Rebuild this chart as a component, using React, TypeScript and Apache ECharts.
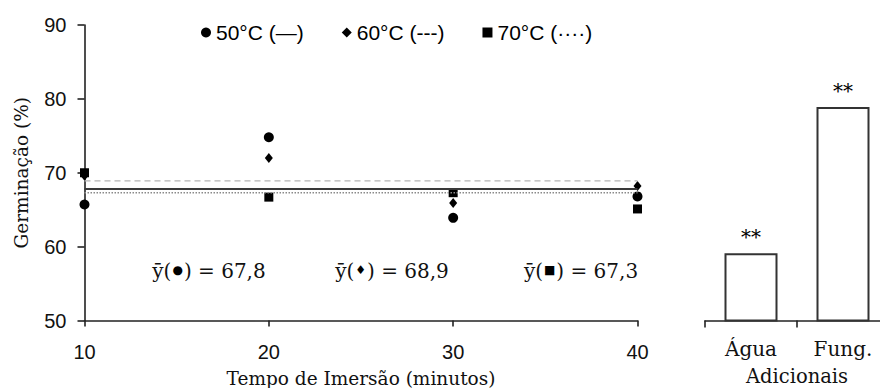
import React, { useEffect, useRef } from "react";
import * as echarts from "echarts";

const times = [10, 20, 30, 40];
const series50 = [65.7, 74.8, 63.9, 66.8];
const series60 = [69.6, 72.0, 65.9, 68.2];
const series70 = [70.0, 66.7, 67.3, 65.1];
const seriesNames = ["50°C (—)", "60°C (---)", "70°C (····)"];
const means = [67.8, 68.9, 67.3];
const meanSymbols = ["●", "♦", "■"];
const extraCats = ["Água", "Fung."];
const extraVals = [59.1, 78.9];
const extraSig = ["**", "**"];
const yTicks = [50, 60, 70, 80, 90];

const SANS = "'Liberation Sans', Arial, sans-serif";
const SERIF = "'DejaVu Serif', serif";

const fmt = (v: number) => v.toFixed(1).replace(".", ",");

export default function App() {
  const ref = useRef<HTMLDivElement>(null);
  useEffect(() => {
    if (!ref.current) return;
    const chart = echarts.init(ref.current, undefined, { renderer: "svg" });
    const axisLine = { lineStyle: { color: "#222", width: 1.6 } };
    const pairs = (arr: number[]) => times.map((t, i) => [t, arr[i]]);
    const meanLine = (m: number) => [
      [times[0], m],
      [times[times.length - 1], m],
    ];
    const annCenters = [209, 392, 581];
    chart.setOption({
      animation: false,
      backgroundColor: "#fff",
      legend: {
        data: seriesNames,
        left: 196,
        top: 17,
        itemWidth: 10,
        itemHeight: 10,
        itemGap: 38,
        textStyle: { fontFamily: SANS, fontSize: 21, color: "#000" },
      },
      grid: [
        { left: 84.5, right: 242.5, top: 25, bottom: 67.5, outerBoundsMode: "none", containLabel: false },
        { left: 705, width: 184, top: 25, bottom: 67.5, outerBoundsMode: "none", containLabel: false },
      ],
      xAxis: [
        {
          type: "value",
          gridIndex: 0,
          min: 10,
          max: 40,
          interval: 10,
          splitLine: { show: false },
          axisLine: { ...axisLine, onZero: false },
          axisTick: { show: true, length: 6, lineStyle: { color: "#222", width: 1.6 } },
          axisLabel: { fontFamily: SANS, fontSize: 20, color: "#111", margin: 21 },
          name: "Tempo de Imersão (minutos)",
          nameLocation: "middle",
          nameGap: 48,
          nameTextStyle: { fontFamily: SERIF, fontSize: 18.5, color: "#111" },
        },
        {
          type: "category",
          gridIndex: 1,
          data: extraCats,
          axisLine,
          axisTick: { show: true, length: 7, lineStyle: { color: "#222", width: 1.6 } },
          axisLabel: { fontFamily: SERIF, fontSize: 20, color: "#111", margin: 18 },
          name: "Adicionais",
          nameLocation: "middle",
          nameGap: 46,
          nameTextStyle: { fontFamily: SERIF, fontSize: 19.5, color: "#111" },
        },
      ],
      yAxis: [
        {
          type: "value",
          gridIndex: 0,
          min: yTicks[0],
          max: yTicks[yTicks.length - 1],
          interval: 10,
          splitLine: { show: false },
          axisLine: { ...axisLine, show: true },
          axisTick: { show: true, length: 7, lineStyle: { color: "#222", width: 1.6 } },
          axisLabel: { fontFamily: SANS, fontSize: 20, color: "#111", margin: 18 },
          name: "Germinação (%)",
          nameLocation: "middle",
          nameGap: 54,
          nameTextStyle: { fontFamily: SERIF, fontSize: 18.5, color: "#111" },
        },
        {
          type: "value",
          gridIndex: 1,
          min: yTicks[0],
          max: yTicks[yTicks.length - 1],
          show: false,
          splitLine: { show: false },
        },
      ],
      series: [
        {
          type: "line",
          name: "m60",
          xAxisIndex: 0,
          yAxisIndex: 0,
          data: meanLine(means[1]),
          symbol: "none",
          lineStyle: { color: "#b5b5b5", width: 1.4, type: [6, 4] },
          silent: true,
        },
        {
          type: "line",
          name: "m70",
          xAxisIndex: 0,
          yAxisIndex: 0,
          data: meanLine(means[2]),
          symbol: "none",
          lineStyle: { color: "#8a8a8a", width: 1.6, type: [1.5, 1.5] },
          silent: true,
        },
        {
          type: "line",
          name: "m50",
          xAxisIndex: 0,
          yAxisIndex: 0,
          data: meanLine(means[0]),
          symbol: "none",
          lineStyle: { color: "#3a3a3a", width: 2 },
          silent: true,
        },
        {
          type: "scatter",
          name: seriesNames[0],
          xAxisIndex: 0,
          yAxisIndex: 0,
          data: pairs(series50),
          symbol: "circle",
          symbolSize: 10,
          clip: false,
          itemStyle: { color: "#000", opacity: 1 },
        },
        {
          type: "scatter",
          name: seriesNames[1],
          xAxisIndex: 0,
          yAxisIndex: 0,
          data: pairs(series60),
          symbol: "diamond",
          symbolSize: [8, 10],
          clip: false,
          itemStyle: { color: "#000", opacity: 1 },
        },
        {
          type: "scatter",
          name: seriesNames[2],
          xAxisIndex: 0,
          yAxisIndex: 0,
          data: pairs(series70),
          symbol: "rect",
          symbolSize: 9,
          clip: false,
          itemStyle: { color: "#000", opacity: 1 },
        },
        {
          type: "bar",
          xAxisIndex: 1,
          yAxisIndex: 1,
          data: extraVals,
          barWidth: 53,
          itemStyle: { color: "#fff", borderColor: "#333", borderWidth: 2 },
          label: {
            show: true,
            position: "top",
            distance: 6,
            formatter: (p: any) => extraSig[p.dataIndex],
            fontFamily: SERIF,
            fontSize: 20,
            color: "#000",
          },
        },
      ],
      graphic: means.map((m, i) => ({
        type: "text",
        x: annCenters[i],
        y: 271,
        style: {
          text: `ȳ({s|${meanSymbols[i]}}) = ${fmt(m)}`,
          fontFamily: SERIF,
          fontSize: 20,
          fill: "#111",
          textAlign: "center",
          textVerticalAlign: "middle",
          rich: {
            s: { fontSize: 12, fontFamily: "'DejaVu Sans', sans-serif", fill: "#000", padding: [0, 1, 2, 1] },
          },
        },
      })),
    });
    return () => chart.dispose();
  }, []);
  return (
    <div
      ref={ref}
      style={{ position: "absolute", left: 0, top: 0, width: 880, height: 388 }}
    />
  );
}
